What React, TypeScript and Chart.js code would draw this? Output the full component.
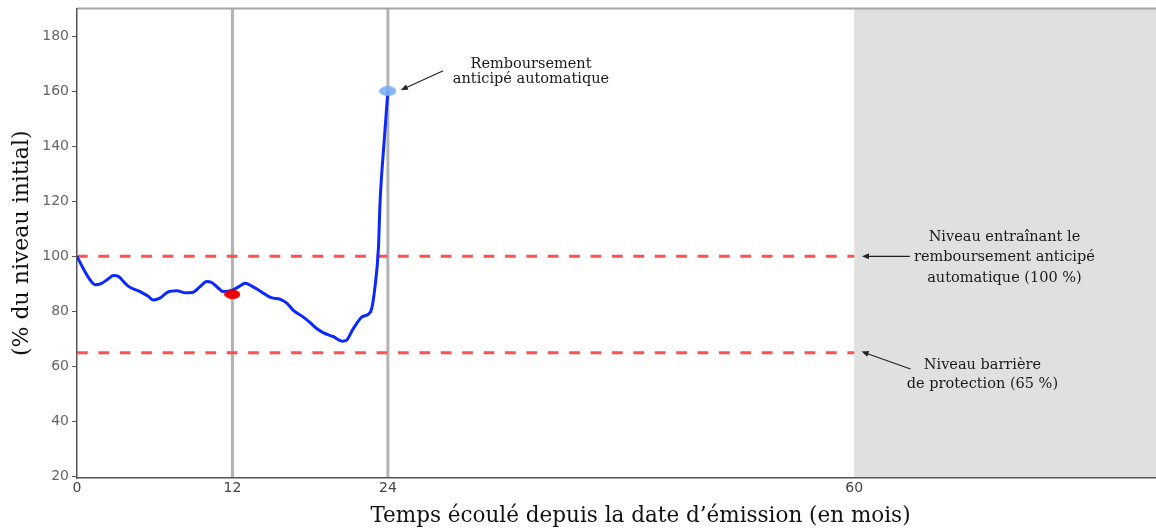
import React, { useEffect, useRef } from 'react';
import { Chart, registerables } from 'chart.js';
Chart.register(...registerables);

// ---- data ----
const months = [0, 0.5, 1.0, 1.4, 1.9, 2.4, 2.8, 3.2, 3.6, 4.0, 4.9, 5.5, 5.9, 6.4, 7.0, 7.7, 8.3, 8.9, 9.5, 10.0, 10.4, 10.9, 11.3, 12.0, 12.5, 13.0, 13.5, 14.1, 15.0, 15.7, 16.2, 16.7, 17.4, 18.0, 18.5, 19.0, 19.8, 20.5, 20.8, 21.3, 22.0, 22.5, 22.75, 23.0, 23.27, 23.4, 23.7, 24.0];
const levels = [100, 95.4, 91.5, 89.7, 90.2, 91.8, 93, 92.7, 90.8, 89, 87.1, 85.5, 84.1, 84.8, 87, 87.5, 86.8, 86.9, 89, 90.9, 90.5, 88.5, 87.2, 87.7, 89, 90.2, 89.2, 87.5, 85, 84.4, 83, 80.4, 78.2, 75.9, 73.8, 72.3, 70.8, 69.2, 69.5, 73.5, 78, 79, 81, 88.7, 103, 120, 141, 160];
const xTickValues = [0, 12, 24, 60];
const yTickValues = [20, 40, 60, 80, 100, 120, 140, 160, 180];
const observationMonths = [12, 24];
const autocallLevel = [100, 100];
const barrierLevel = [65, 65];
const levelLineMonths = [0, 60];
const observedMonth = [12];
const observedLevel = [86.2];
const redemptionMonth = [24];
const redemptionLevel = [160];
const maturityMonth = 60;
const xMax = 83.3;
const yMin = 19.5;
const yMax = 190;

const SERIF = '"DejaVu Serif", serif';
const SANS = '"DejaVu Sans", sans-serif';

function ellipseImage(w: number, h: number, color: string) {
  const c = document.createElement('canvas');
  c.width = w;
  c.height = h;
  const g = c.getContext('2d')!;
  g.fillStyle = color;
  g.beginPath();
  g.ellipse(w / 2, h / 2, w / 2, h / 2, 0, 0, Math.PI * 2);
  g.fill();
  return c;
}

function arrow(ctx: CanvasRenderingContext2D, x1: number, y1: number, x2: number, y2: number) {
  ctx.save();
  ctx.strokeStyle = '#222';
  ctx.fillStyle = '#222';
  ctx.lineWidth = 1.2;
  const ang = Math.atan2(y2 - y1, x2 - x1);
  const hl = 7;
  const hw = 3;
  ctx.beginPath();
  ctx.moveTo(x1, y1);
  ctx.lineTo(x2 - Math.cos(ang) * hl * 0.8, y2 - Math.sin(ang) * hl * 0.8);
  ctx.stroke();
  ctx.beginPath();
  ctx.moveTo(x2, y2);
  ctx.lineTo(x2 - Math.cos(ang) * hl + Math.sin(ang) * hw, y2 - Math.sin(ang) * hl - Math.cos(ang) * hw);
  ctx.lineTo(x2 - Math.cos(ang) * hl - Math.sin(ang) * hw, y2 - Math.sin(ang) * hl + Math.cos(ang) * hw);
  ctx.closePath();
  ctx.fill();
  ctx.restore();
}

const decorPlugin = {
  id: 'decor',
  beforeDraw(chart: any) {
    const { ctx, chartArea, scales } = chart;
    const x = scales.x;
    ctx.save();
    ctx.fillStyle = '#e0e0e0';
    const gx = x.getPixelForValue(maturityMonth);
    ctx.fillRect(gx, chartArea.top, chartArea.right - gx, chartArea.bottom - chartArea.top);
    ctx.strokeStyle = '#b3b3b3';
    ctx.lineWidth = 3;
    observationMonths.forEach((m) => {
      const px = x.getPixelForValue(m);
      ctx.beginPath();
      ctx.moveTo(px, chartArea.top);
      ctx.lineTo(px, chartArea.bottom);
      ctx.stroke();
    });
    ctx.strokeStyle = '#a6a6a6';
    ctx.lineWidth = 2;
    ctx.beginPath();
    ctx.moveTo(chartArea.left, chartArea.top);
    ctx.lineTo(chartArea.right, chartArea.top);
    ctx.stroke();
    ctx.restore();
  },
  afterDraw(chart: any) {
    const { ctx, scales, chartArea } = chart;
    const X = (v: number) => scales.x.getPixelForValue(v);
    const Y = (v: number) => scales.y.getPixelForValue(v);
    ctx.save();
    ctx.fillStyle = '#1a1a1a';
    ctx.font = '14.5px ' + SERIF;
    ctx.textAlign = 'center';
    ctx.textBaseline = 'middle';
    // top annotation
    ctx.fillText('Remboursement', X(35.05), Y(169.8));
    ctx.fillText('anticipé automatique', X(35.05), Y(164.4));
    arrow(ctx, X(28.27), Y(167.4), X(25.0), Y(160.4));
    // autocall level annotation
    ctx.fillText('Niveau entraînant le', X(71.6), Y(106.8));
    ctx.fillText('remboursement anticipé', X(71.6), Y(99.6));
    ctx.fillText('automatique (100 %)', X(71.6), Y(92.2));
    arrow(ctx, X(64.3), Y(100), X(60.6), Y(100));
    // barrier annotation
    ctx.fillText('Niveau barrière', X(69.9), Y(60.6));
    ctx.fillText('de protection (65 %)', X(69.9), Y(53.7));
    arrow(ctx, X(64.35), Y(59.1), X(60.57), Y(65.4));
    // x axis title
    ctx.fillStyle = '#111';
    ctx.font = '21.5px ' + SERIF;
    ctx.fillText('Temps écoulé depuis la date d\u2019émission (en mois)', X(43.5), chartArea.bottom + 38);
    ctx.restore();
  },
};

export default function App() {
  const ref = useRef<HTMLCanvasElement>(null);
  useEffect(() => {
    const redDot = ellipseImage(16, 9, '#ee0000');
    const blueDot = ellipseImage(17, 10, 'rgba(120,175,245,0.9)');
    const zeroPad = (axis: any) => {
      axis.paddingLeft = 0;
      axis.paddingRight = 0;
      axis.paddingTop = 0;
      axis.paddingBottom = 0;
    };
    const chart = new Chart(ref.current!, {
      type: 'line',
      data: {
        datasets: [
          {
            data: observedMonth.map((m, i) => ({ x: m, y: observedLevel[i] })),
            pointStyle: redDot as any,
            pointRadius: 8,
            showLine: false,
            order: 0,
          },
          {
            data: redemptionMonth.map((m, i) => ({ x: m, y: redemptionLevel[i] })),
            pointStyle: blueDot as any,
            pointRadius: 8,
            showLine: false,
            order: 0,
          },
          {
            data: months.map((m, i) => ({ x: m, y: levels[i] })),
            borderColor: '#0a28ff',
            borderWidth: 3,
            pointRadius: 0,
            cubicInterpolationMode: 'monotone',
            order: 1,
          },
          {
            data: levelLineMonths.map((m, i) => ({ x: m, y: autocallLevel[i] })),
            borderColor: 'rgba(255,70,70,0.95)',
            borderWidth: 3,
            borderDash: [10.7, 10.7],
            pointRadius: 0,
            order: 2,
          },
          {
            data: levelLineMonths.map((m, i) => ({ x: m, y: barrierLevel[i] })),
            borderColor: 'rgba(255,70,70,0.95)',
            borderWidth: 3,
            borderDash: [10.7, 10.7],
            pointRadius: 0,
            order: 2,
          },
        ],
      },
      options: {
        animation: false,
        responsive: false,
        devicePixelRatio: 1,
        layout: { autoPadding: false, padding: { left: 0, top: 8.5, right: 0, bottom: 0 } },
        plugins: { legend: { display: false }, tooltip: { enabled: false } },
        scales: {
          x: {
            type: 'linear',
            min: 0,
            max: xMax,
            grid: { display: false, drawTicks: false },
            border: { display: true, color: '#555', width: 1.5 },
            afterBuildTicks: (axis: any) => {
              axis.ticks = xTickValues.map((v) => ({ value: v }));
            },
            afterFit: (axis: any) => {
              axis.height = 51;
              zeroPad(axis);
            },
            ticks: { color: '#444', font: { family: SANS, size: 14 }, padding: 2, maxRotation: 0, autoSkip: false },
          },
          y: {
            type: 'linear',
            min: yMin,
            max: yMax,
            grid: { display: true, drawOnChartArea: false, drawTicks: true, tickLength: 5, color: '#555' },
            border: { display: true, color: '#555', width: 1.5 },
            afterBuildTicks: (axis: any) => {
              axis.ticks = yTickValues.map((v) => ({ value: v }));
            },
            afterFit: (axis: any) => {
              axis.width = 77;
              zeroPad(axis);
            },
            ticks: { color: '#666', font: { family: SANS, size: 14 }, padding: 3 },
            title: {
              display: true,
              text: '(% du niveau initial)',
              color: '#111',
              font: { family: SERIF, size: 22 },
              padding: { top: 9, bottom: 0 },
            },
          },
        },
      },
      plugins: [decorPlugin],
    } as any);
    return () => chart.destroy();
  }, []);
  return (
    <div style={{ position: 'fixed', left: 0, top: 0, width: 1156, height: 529, background: '#fff' }}>
      <canvas ref={ref} width={1156} height={529} style={{ display: 'block', width: 1156, height: 529 }} />
    </div>
  );
}
